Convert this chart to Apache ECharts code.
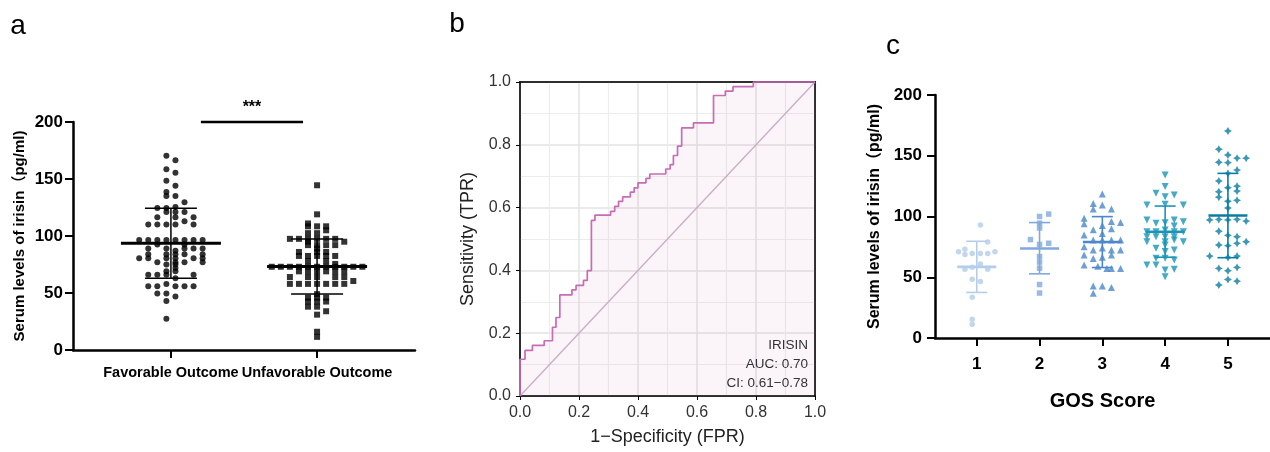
<!DOCTYPE html>
<html><head><meta charset="utf-8">
<script src="https://cdn.jsdelivr.net/npm/echarts@6/dist/echarts.min.js"></script>
<style>html,body{margin:0;padding:0;background:#fff}#c{width:1270px;height:452px}</style>
</head><body><div id="c"></div>
<script>
const FONT = '"Liberation Sans", Arial, "Noto Sans CJK SC", sans-serif';

// ---------- Panel a : outcome groups ----------
const outcomeCategories = ['Favorable Outcome', 'Unfavorable Outcome'];
const favorableValues = [170.5,166.5,158.5,155.5,148.5,144,138.5,135,135,129.5,125.5,124.5,124.5,121,121,121,116.5,116.5,116.5,113,
  110,110,110,110,110,96.5,96.5,96.5,96.5,96.5,96.5,96.5,96.5,92.5,92.5,89,89,89,89,89,87,84,84,84,84,84,
  80.5,80.5,80.5,80.5,80.5,80.5,77,77,77,77,75,75,72,69,69,66,66,66,66,63,58,56,56,56,56,56,49.5,49.5,47,43,27.5];
const favorableSlots = [-0.5,0.5,-0.5,0.5,-0.5,0.5,-0.5,-0.5,0.5,1.5,0.5,-1.5,-0.5,-0.5,0.5,1.5,-1.5,0.5,2.5,1.5,
  -2.5,-1.5,-0.5,0.5,2.5,-3.5,-2.5,-1.5,-0.5,0.5,1.5,2.5,3.5,-1.5,1.5,-2.5,-0.5,1.5,2.5,3.5,0.5,-2.5,-0.5,0.5,1.5,3.5,
  -3.5,-2.5,-0.5,0.5,2.5,3.5,-1.5,0.5,1.5,3.5,-0.5,0.5,0.5,-0.5,0.5,-2.5,-1.5,-0.5,2.5,0.5,-0.5,-2.5,-1.5,0.5,1.5,2.5,-1.5,-0.5,0.5,-0.5,-0.5];
const unfavorableValues = [144.5,119,111,108.5,108.5,108.5,105,102.5,102.5,97.5,97.5,97.5,97.5,97.5,97.5,95,95,92,92,92,92,89,86,86,86,
  82.5,82.5,82.5,82.5,82.5,78,78,75.5,73,73,73,73,73,73,73,73,73,73,73,69,69,69,69,69,69,64,64,64,64,64,60.5,
  58,58,58,58,58,58,58,49,46,46,46,42.5,42.5,42.5,38,38,34,31,16,11.5];
const unfavorableSlots = [0,0,-1,-1,0,1,1,-1,0,-3,-2,-1,0,1,2,-1,3,-1,0,1,2,0,-2,0,1,
  -2,-1,0,1,2,-1,1,2,-5,-4,-3,-2,-1,0,1,2,3,4,5,-2,-1,0,1,2,3,-3,-1,0,2,3,4,
  -3,-2,-1,0,1,2,3,0,-1,0,1,-1,0,1,-1,0,1,0,0,0];
const outcomeMean = [93.6, 73.2];
const outcomeSDLow = [62.9, 49.2];
const outcomeSDHigh = [124.3, 97.4];
const significance = [[1.205, 200, 1.904]];
const significanceLabel = '***';

// ---------- Panel b : ROC ----------
const rocFPR = [0,0,0.017,0.042,0.082,0.110,0.122,0.135,0.176,0.190,0.215,0.228,0.242,0.254,0.307,0.321,0.334,0.348,0.374,0.387,
  0.400,0.427,0.440,0.494,0.509,0.520,0.534,0.548,0.588,0.656,0.696,0.722,0.791,1.0];
const rocTPR = [0,0.117,0.145,0.161,0.176,0.219,0.250,0.322,0.338,0.352,0.368,0.399,0.559,0.576,0.588,0.604,0.620,0.634,0.649,0.663,
  0.679,0.693,0.707,0.723,0.737,0.766,0.796,0.854,0.870,0.957,0.971,0.985,1.0,1.0];
const rocTexts = ['IRISIN', 'AUC: 0.70', 'CI: 0.61\u22120.78'];

// ---------- Panel c : GOS score ----------
const gosCategories = ['1','2','3','4','5'];
const gos1Values = [93,79,73,71,69.5,69.5,69.5,71,68.8,61,58.2,56.6,56.6,48.3,46.4,33.5,15.4,11.4];
const gos1Slots  = [0.4,1.2,-1.3,-2,-0.5,0.4,1.2,2,-1.3,0.4,-0.5,-1.3,1.2,-0.5,0.4,-0.5,-0.5,-0.5];
const gos2Values = [102,100,94.5,90.5,81,78,77,67,62.5,57.5,44,37];
const gos2Slots  = [1,0,0,0,-1,1,0,0,0,0,0,0];
const gos3Values = [118.5,110.8,109.5,106.2,106.2,98.5,95.8,94,95,92.5,89,90,86,84.8,80.6,80.6,80.6,80.6,75.2,72.4,74,72.4,72.4,68.3,65.5,66.5,68.3,60,59,57.3,57.3,57.3,42.8,42.8,41.5,36.8];
const gos3Slots  = [0,-1,0,-1,1,-2,1,-2,2,0,-1,1,0,-2,-1,0,1,2,-2,-1,0,1,2,-2,-1,0,1,-2,-0.5,0.5,1,2,-1,0,1,-1];
const gos4Values = [134.2,124.6,119.1,116.3,117.7,109.5,110,109.5,97.1,94.4,94.9,97.1,95.7,92.2,87.5,87.5,88.9,87.5,87.5,83.4,83.4,83.4,83.4,79.3,79.3,80.6,79.3,73.8,76.5,71.1,72.4,65.6,65.6,64.2,60.1,60.1,56,56.5,50.5];
const gos4Slots  = [0,0,-1,0,1,-2,0,2,-2,-1,0,1,2,1,-2,-1,0,1,2,-2,-1,0,1,-2,0,1,2,-1,0,0,1,-1,0,1,-2,-1,0,1,0];
const gos5Values = [170.4,155.3,150.6,148,148,144.6,144.3,138.2,135.5,129.2,125,123.7,120.4,120.9,115.9,113.3,112.5,107,97.2,97.6,97.2,97.6,96.2,87.9,84.5,83.3,79.2,76.5,76,77.9,67.4,66.3,67.4,57.3,55.4,58.1,43.6,48.2,46.8];
const gos5Slots  = [0,-1,0,1,2,-1,0,1,0,-1,1,0,-1,1,-1,1,0,0,-2,-1,0,1,2,-1,0,1,2,-1,0,1,-2,0,1,-1,0,1,-1,0,1];
const gosMean   = [58.5, 73.7, 79, 87.5, 100.8];
const gosSDLow  = [37.5, 52.8, 58, 66.5, 66.1];
const gosSDHigh = [79.6, 95, 99.9, 108.6, 135.5];

// ---------- styles ----------
const SWARM_A = 0.062, SWARM_C = 0.145;
const gosColors = ['#b3cdea','#80a9db','#4b87c9','#1895b7','#0b7da2'];
const STAR = 'path://M5,0 L6.8,3.2 L10,5 L6.8,6.8 L5,10 L3.2,6.8 L0,5 L3.2,3.2 Z';
const gosSymbols = ['circle','rect','triangle','triangle',STAR];
const gosSymbolRotate = [0,0,0,180,0];
const gosSymbolSize = [5.5,5.5,7,7,8];

function swarm(center, values, slots, step) {
  return values.map((v, i) => [center + slots[i] * step, v]);
}
function errorBars(meanHalf, capHalf, meanW, barW, colorOf) {
  return function (params, api) {
    const x = api.value(0);
    const m = api.coord([x, api.value(1)]);
    const lo = api.coord([x, api.value(2)]);
    const hi = api.coord([x, api.value(3)]);
    const c = colorOf(params.dataIndex);
    const st = w => ({ stroke: c, lineWidth: w });
    return { type: 'group', children: [
      { type: 'line', shape: { x1: m[0], y1: hi[1], x2: m[0], y2: lo[1] }, style: st(barW) },
      { type: 'line', shape: { x1: m[0] - capHalf, y1: hi[1], x2: m[0] + capHalf, y2: hi[1] }, style: st(barW) },
      { type: 'line', shape: { x1: m[0] - capHalf, y1: lo[1], x2: m[0] + capHalf, y2: lo[1] }, style: st(barW) },
      { type: 'line', shape: { x1: m[0] - meanHalf, y1: m[1], x2: m[0] + meanHalf, y2: m[1] }, style: st(meanW) }
    ]};
  };
}

const blackAxis = { show: true, onZero: false, lineStyle: { color: '#000', width: 2.5 } };
const blackTick = (len) => ({ show: true, length: len, lineStyle: { color: '#000', width: 2 } });
const frameAxis = { show: true, onZero: false, lineStyle: { color: '#000', width: 1.5 } };

const chart = echarts.init(document.getElementById('c'));
const series = [];

// panel a
series.push({ type: 'scatter', xAxisIndex: 0, yAxisIndex: 0, symbol: 'circle', symbolSize: 6,
  itemStyle: { color: '#000' }, data: swarm(1, favorableValues, favorableSlots, SWARM_A), z: 3 });
series.push({ type: 'scatter', xAxisIndex: 0, yAxisIndex: 0, symbol: 'rect', symbolSize: 6,
  itemStyle: { color: '#000' }, data: swarm(2, unfavorableValues, unfavorableSlots, SWARM_A), z: 3 });
series.push({ type: 'custom', xAxisIndex: 0, yAxisIndex: 0, z: 4,
  data: outcomeMean.map((m, i) => [i + 1, m, outcomeSDLow[i], outcomeSDHigh[i]]),
  encode: { x: 0, y: [1, 2, 3] },
  renderItem: errorBars(50, 26, 3, 1.5, () => '#000') });
series.push({ type: 'custom', xAxisIndex: 0, yAxisIndex: 0, z: 4, data: significance,
  encode: { x: [0, 2], y: 1 },
  renderItem: function (params, api) {
    const a = api.coord([api.value(0), api.value(1)]);
    const b = api.coord([api.value(2), api.value(1)]);
    return { type: 'group', children: [
      { type: 'line', shape: { x1: a[0], y1: a[1], x2: b[0], y2: b[1] }, style: { stroke: '#000', lineWidth: 2.5 } },
      { type: 'text', style: { x: (a[0] + b[0]) / 2, y: a[1] - 14, text: significanceLabel, align: 'center',
        verticalAlign: 'middle', fontSize: 16, fontWeight: 'bold', fontFamily: FONT, fill: '#000' } }
    ]};
  } });

// panel b
series.push({ type: 'line', xAxisIndex: 1, yAxisIndex: 1, data: [[0, 0], [1, 1]], showSymbol: false, clip: false,
  lineStyle: { color: '#c9b4c7', width: 1.3 }, z: 3, silent: true });
series.push({ type: 'line', xAxisIndex: 1, yAxisIndex: 1, step: 'end', showSymbol: false, clip: false,
  data: rocFPR.map((f, i) => [f, rocTPR[i]]),
  lineStyle: { color: '#c66db3', width: 1.7 },
  areaStyle: { color: 'rgba(199,111,181,0.11)' }, z: 4 });

// panel c
const gosValues = [gos1Values, gos2Values, gos3Values, gos4Values, gos5Values];
const gosSlots = [gos1Slots, gos2Slots, gos3Slots, gos4Slots, gos5Slots];
gosValues.forEach((vals, g) => {
  series.push({ type: 'scatter', xAxisIndex: 2, yAxisIndex: 2, symbol: gosSymbols[g], symbolSize: gosSymbolSize[g],
    symbolRotate: gosSymbolRotate[g], itemStyle: { color: gosColors[g] },
    data: swarm(g + 1, vals, gosSlots[g], SWARM_C), z: 3 });
});
series.push({ type: 'custom', xAxisIndex: 2, yAxisIndex: 2, z: 4,
  data: gosMean.map((m, i) => [i + 1, m, gosSDLow[i], gosSDHigh[i]]),
  encode: { x: 0, y: [1, 2, 3] },
  renderItem: errorBars(19.5, 10.5, 2.6, 1.6, i => gosColors[i]) });

const option = {
  animation: false,
  backgroundColor: '#fff',
  textStyle: { fontFamily: FONT },
  grid: [
    { left: 73, top: 122, width: 342, height: 228 },
    { left: 520, top: 82, width: 295, height: 314, show: true, backgroundColor: '#fff', borderColor: '#000', borderWidth: 1.5 },
    { left: 935, top: 95, width: 335, height: 243 }
  ],
  xAxis: [
    { gridIndex: 0, type: 'value', min: 0.33, max: 2.67,
      axisLine: blackAxis, axisTick: Object.assign(blackTick(8), { customValues: [1, 2] }),
      axisLabel: { customValues: [1, 2], formatter: v => outcomeCategories[Math.round(v) - 1],
        color: '#000', fontWeight: 'bold', fontSize: 14.5, margin: 16 },
      splitLine: { show: false } },
    { gridIndex: 1, type: 'value', min: 0, max: 1, interval: 0.2,
      name: '1\u2212Specificity (FPR)', nameLocation: 'middle', nameGap: 32,
      nameTextStyle: { fontSize: 18, color: '#222' },
      axisLine: frameAxis,
      axisTick: { show: true, length: 4, lineStyle: { color: '#000', width: 1 } },
      axisLabel: { formatter: v => v.toFixed(1), fontSize: 16, color: '#333', margin: 9 },
      splitLine: { show: true, lineStyle: { color: '#e3e3e3', width: 1.5 } },
      minorTick: { show: false, splitNumber: 2 },
      minorSplitLine: { show: true, lineStyle: { color: '#ededed', width: 1.2 } } },
    { gridIndex: 2, type: 'value', min: 0.335, max: 5.67,
      name: 'GOS Score', nameLocation: 'middle', nameGap: 53,
      nameTextStyle: { fontSize: 20, fontWeight: 'bold', color: '#000' },
      axisLine: blackAxis, axisTick: Object.assign(blackTick(8), { customValues: [1, 2, 3, 4, 5] }),
      axisLabel: { customValues: [1, 2, 3, 4, 5], formatter: v => gosCategories[Math.round(v) - 1],
        color: '#000', fontWeight: 'bold', fontSize: 17, margin: 18 },
      splitLine: { show: false } },
    { gridIndex: 1, type: 'value', position: 'top', min: 0, max: 1,
      axisLine: frameAxis, axisTick: { show: false }, axisLabel: { show: false }, splitLine: { show: false } }
  ],
  yAxis: [
    { gridIndex: 0, type: 'value', min: 0, max: 200, interval: 50,
      name: 'Serum levels of irisin\uff08pg/ml)', nameLocation: 'middle', nameGap: 46,
      nameTextStyle: { fontSize: 15, fontWeight: 'bold', color: '#000' },
      axisLine: blackAxis, axisTick: blackTick(8),
      axisLabel: { color: '#000', fontWeight: 'bold', fontSize: 17, margin: 10 },
      splitLine: { show: false } },
    { gridIndex: 1, type: 'value', min: 0, max: 1, interval: 0.2,
      name: 'Sensitivity (TPR)', nameLocation: 'middle', nameGap: 43,
      nameTextStyle: { fontSize: 18, color: '#222' },
      axisLine: frameAxis,
      axisTick: { show: true, length: 4, lineStyle: { color: '#000', width: 1 } },
      axisLabel: { formatter: v => v.toFixed(1), fontSize: 16, color: '#333', margin: 9 },
      splitLine: { show: true, lineStyle: { color: '#e3e3e3', width: 1.5 } },
      minorTick: { show: false, splitNumber: 2 },
      minorSplitLine: { show: true, lineStyle: { color: '#ededed', width: 1.2 } } },
    { gridIndex: 2, type: 'value', min: 0, max: 200, interval: 50,
      name: 'Serum levels of irisin\uff08pg/ml)', nameLocation: 'middle', nameGap: 52,
      nameTextStyle: { fontSize: 16, fontWeight: 'bold', color: '#000' },
      axisLine: blackAxis, axisTick: blackTick(8),
      axisLabel: { color: '#000', fontWeight: 'bold', fontSize: 17, margin: 13 },
      splitLine: { show: false } },
    { gridIndex: 1, type: 'value', position: 'right', min: 0, max: 1,
      axisLine: frameAxis, axisTick: { show: false }, axisLabel: { show: false }, splitLine: { show: false } }
  ],
  graphic: [
    { type: 'text', x: 18, y: 26, style: { text: 'a', fontSize: 28, fontFamily: FONT, fill: '#000', align: 'center', verticalAlign: 'middle' } },
    { type: 'text', x: 457, y: 24, style: { text: 'b', fontSize: 28, fontFamily: FONT, fill: '#000', align: 'center', verticalAlign: 'middle' } },
    { type: 'text', x: 893, y: 46, style: { text: 'c', fontSize: 28, fontFamily: FONT, fill: '#000', align: 'center', verticalAlign: 'middle' } },
    { type: 'text', x: 808, y: 345, z: 10, style: { text: rocTexts[0], fontSize: 13.5, fontFamily: FONT, fill: '#333', align: 'right', verticalAlign: 'middle' } },
    { type: 'text', x: 808, y: 364, z: 10, style: { text: rocTexts[1], fontSize: 13.5, fontFamily: FONT, fill: '#333', align: 'right', verticalAlign: 'middle' } },
    { type: 'text', x: 808, y: 383, z: 10, style: { text: rocTexts[2], fontSize: 13.5, fontFamily: FONT, fill: '#333', align: 'right', verticalAlign: 'middle' } }
  ],
  series: series
};
chart.setOption(option);
</script></body></html>
